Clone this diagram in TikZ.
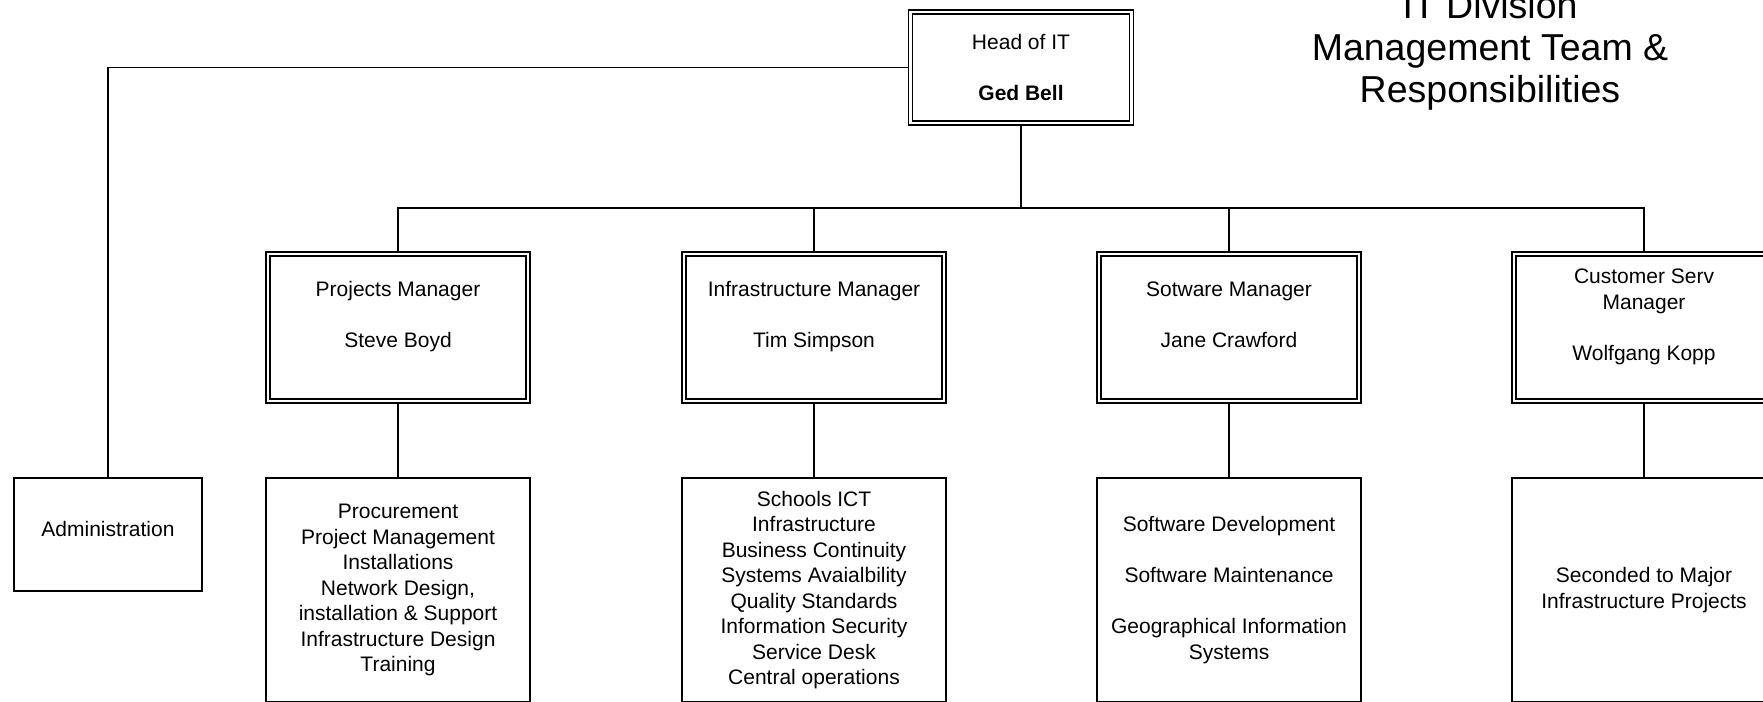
\documentclass[tikz,border=0pt]{standalone}
\usepackage{fontspec}
\setmainfont{Liberation Sans}
\begin{document}
\begin{tikzpicture}[x=1pt, y=-1pt, line width=1.5pt,
    every node/.style={font=\fontsize{21}{25.5}\selectfont, align=center, inner sep=0pt},
    boss/.style={draw, double, line width=1.3pt, double distance=2.7pt, outer sep=2.65pt, minimum width=221pt, minimum height=111pt},
    manager/.style={draw, double, line width=1.3pt, double distance=2.7pt, outer sep=2.65pt, minimum width=260pt, minimum height=147pt},
    duties/.style={draw, minimum width=264pt, minimum height=224pt},
    adminbox/.style={draw, minimum width=188pt, minimum height=113pt}]
  \useasboundingbox (0,0) rectangle (1763,701);
  \node[font=\fontsize{37.5}{42}\selectfont, anchor=base] (title) at (1490,102) {IT Division\\Management Team \&\\Responsibilities};
  \node[boss] (head) at (1021,67.5) {Head of IT\\~\\\textbf{Ged Bell}};
  \node[adminbox] (admin) at (108,534.5) {\raisebox{5.5pt}[\height][\depth]{Administration}};
  \coordinate (bus) at (0,208);

  \node[manager] (proj) at (398,327.5) {Projects Manager\\~\\Steve Boyd\\~};
  \node[manager] (infra) at (814,327.5) {Infrastructure Manager\\~\\Tim Simpson\\~};
  \node[manager] (soft) at (1229,327.5) {Sotware Manager\\~\\Jane Crawford\\~};
  \node[manager] (cust) at (1644,327.5) {Customer Serv\\Manager\\~\\Wolfgang Kopp\\~};

  \node[duties] (projduty) at (398,590) {Procurement\\Project Management\\Installations\\Network Design,\\installation \& Support\\Infrastructure Design\\Training};
  \node[duties] (infraduty) at (814,590) {Schools ICT\\Infrastructure\\Business Continuity\\Systems Avaialbility\\Quality Standards\\Information Security\\Service Desk\\Central operations};
  \node[duties] (softduty) at (1229,590) {Software Development\\~\\Software Maintenance\\~\\Geographical Information\\Systems};
  \node[duties] (custduty) at (1644,590) {Seconded to Major\\Infrastructure Projects};

  \draw (head.west) -| (admin.north);
  \foreach \m in {proj,infra,soft,cust}{\draw (head.south) -- (head.south |- bus) -| (\m.north); }
  \foreach \m in {proj,infra,soft,cust}{\draw (\m.south) -- (\m duty.north); }
\end{tikzpicture}
\end{document}
